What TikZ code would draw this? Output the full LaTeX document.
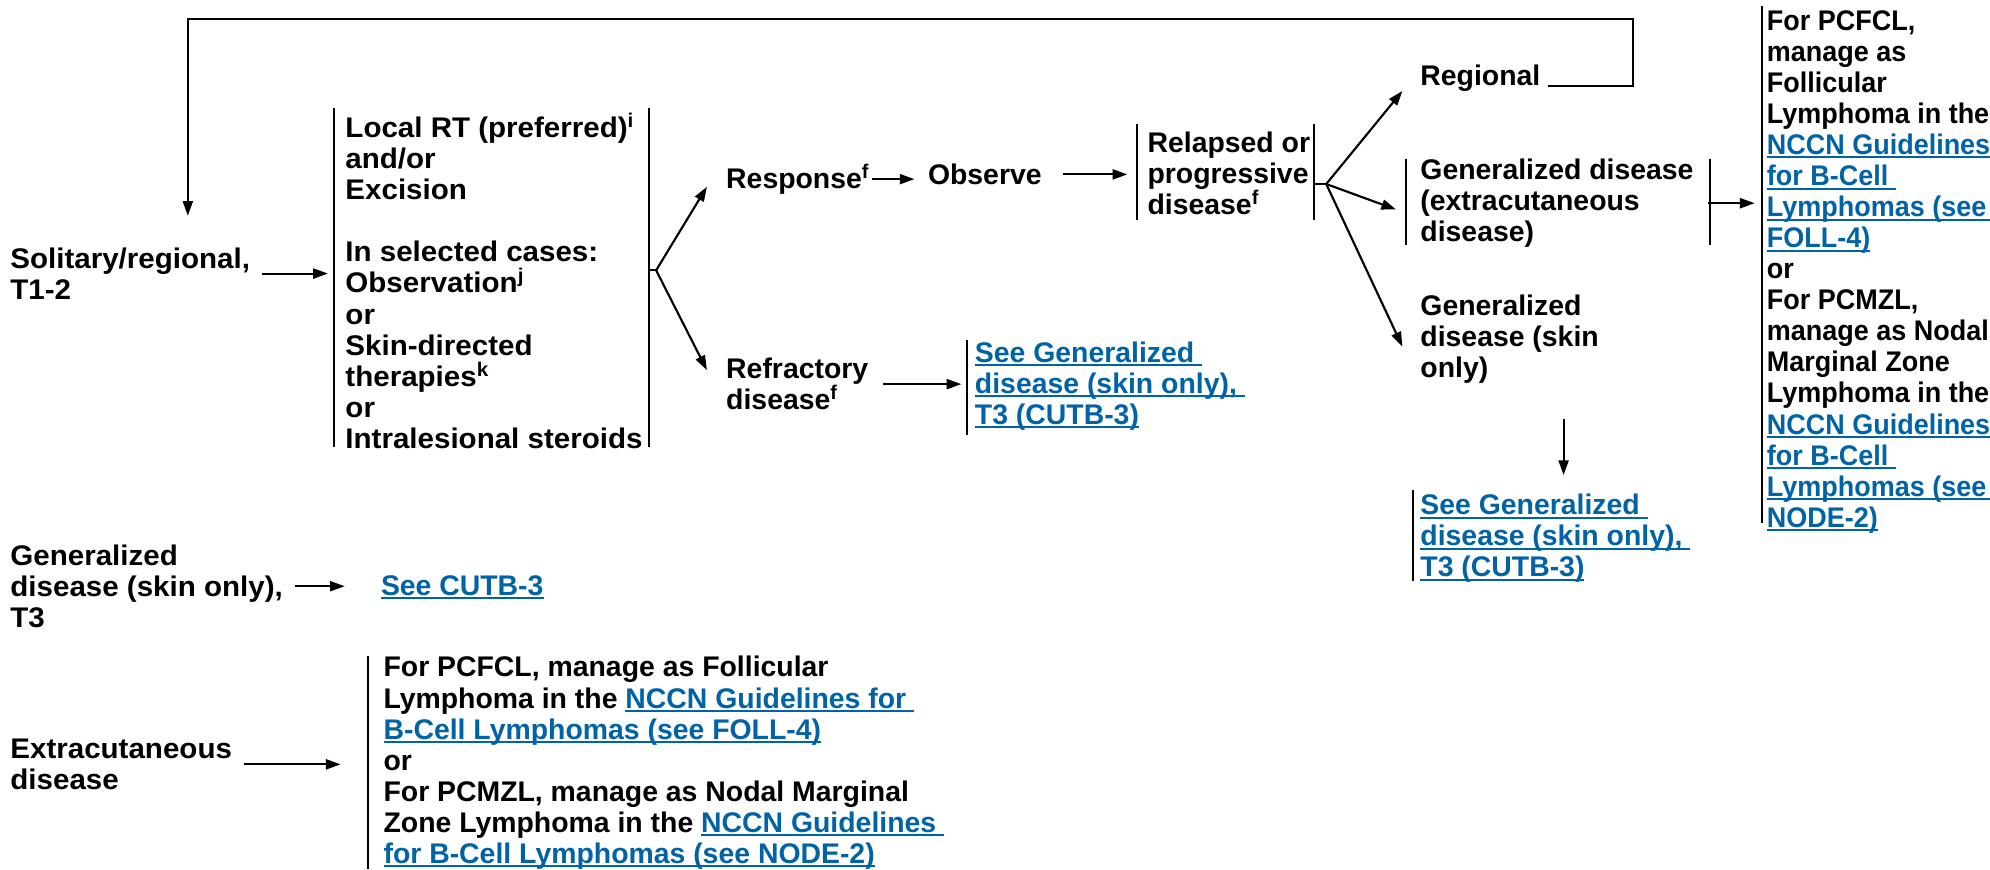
\documentclass[tikz,border=0pt]{standalone}
\usepackage{fontspec}
\setmainfont{Liberation Sans}
\usetikzlibrary{arrows.meta}
\definecolor{linkblue}{RGB}{0,99,166}
\newcommand{\lk}[1]{{\color{linkblue}\setbox0=\hbox{#1}\rlap{\rule[-0.14em]{\wd0}{0.07em}}\box0}}
\newcommand{\fs}{\fontsize{21.3pt}{23.3pt}\selectfont\bfseries}
\begin{document}
\begin{tikzpicture}[x=0.952pt,y=-0.952pt,
  txt/.style={anchor=north west, inner sep=0pt, align=left, font=\fs},
  wide/.style={font=\fs\addfontfeature{FakeStretch=1.04}},
  narrow/.style={font=\fs\addfontfeature{FakeStretch=0.95}},
  arr/.style={-{Triangle[length=11pt,width=7.5pt]}, line width=1.6pt},
  ln/.style={line width=1.6pt},
  bar/.style={line width=1.5pt}]
\useasboundingbox (0,0) rectangle (1568,685);
\fill[white] (0,0) rectangle (1568,685);

% text nodes
\node[txt,wide] (sol) at (8,195) {Solitary/regional,\\T1-2};
\node[txt,wide] (box1) at (272,89) {Local RT (preferred)\textsuperscript{i}\\and/or\\Excision\\[23.3pt]In selected cases:\\Observation\textsuperscript{j}\\or\\Skin-directed\\therapies\textsuperscript{k}\\or\\Intralesional steroids};
\node[txt] (resp) at (572,129) {Response\textsuperscript{f}};
\node[txt] (obs) at (731,129) {Observe};
\node[txt] (rel) at (904,104) {Relapsed or\\progressive\\disease\textsuperscript{f}};
\node[txt] (refr) at (572,282) {Refractory\\disease\textsuperscript{f}};
\node[txt] (see1) at (768,269) {\lk{See Generalized }\\\lk{disease (skin only), }\\\lk{T3 (CUTB-3)}};
\node[txt] (reg) at (1119,51) {Regional};
\node[txt] (gext) at (1119,125) {Generalized disease\\(extracutaneous\\disease)};
\node[txt] (gskin) at (1119,232) {Generalized\\disease (skin\\only)};
\node[txt] (see2) at (1119,389) {\lk{See Generalized }\\\lk{disease (skin only), }\\\lk{T3 (CUTB-3)}};
\node[txt,narrow] (rcol) at (1392,8) {For PCFCL,\\manage as\\Follicular\\Lymphoma in the\\\lk{NCCN Guidelines }\\\lk{for B-Cell }\\\lk{Lymphomas (see }\\\lk{FOLL-4)}\\or\\For PCMZL,\\manage as Nodal\\Marginal Zone\\Lymphoma in the\\\lk{NCCN Guidelines }\\\lk{for B-Cell }\\\lk{Lymphomas (see }\\\lk{NODE-2)}};
\node[txt,wide] (gen3) at (8,429) {Generalized\\disease (skin only),\\T3};
\node[txt] (cutb) at (300,453) {\lk{See CUTB-3}};
\node[txt,wide] (extra) at (8,582) {Extracutaneous\\disease};
\node[txt] (bcol) at (302,517) {For PCFCL, manage as Follicular\\Lymphoma in the \lk{NCCN Guidelines for }\\\lk{B-Cell Lymphomas (see FOLL-4)}\\or\\For PCMZL, manage as Nodal Marginal\\Zone Lymphoma in the \lk{NCCN Guidelines }\\\lk{for B-Cell Lymphomas (see NODE-2)}};

% bracket bars
\draw[bar] (263,85) -- (263,352);
\draw[bar] (511,85) -- (511,352);
\draw[bar] (896,98) -- (896,173);
\draw[bar] (1035,98) -- (1035,173);
\draw[bar] (762,268) -- (762,343);
\draw[bar] (1108,125) -- (1108,193);
\draw[bar] (1347,125) -- (1347,193);
\draw[bar] (1113,386) -- (1113,458);
\draw[bar] (1388,5) -- (1388,412);
\draw[bar] (290,517) -- (290,685);

% junction coordinates
\coordinate (br) at (517,213);
\coordinate (rv) at (1045,145);
\coordinate (loopR) at (1287,15);
\coordinate (solin) at (148,170);
\coordinate (sk) at (1232,330);

% connectors
\draw[arr] ([xshift=9pt]sol.east) -- ([xshift=-13pt]sol.east -| box1.west);
\draw[ln] (511,213) -- (br);
\draw[arr] (br) -- ([shift={(-15,6)}]resp.west);
\draw[arr] (br) -- ([shift={(-15,-11)}]refr.west);
\draw[arr] ([xshift=2pt]resp.east) -- ([xshift=-10pt]resp.east -| obs.west);
\draw[arr] ([xshift=16pt]obs.east) -- ([xshift=-15pt]obs.east -| rel.west);
\draw[arr] ([xshift=11pt]refr.east) -- ([xshift=-10pt]refr.east -| see1.west);
\draw[ln] (1035,145) -- (rv);
\draw[arr] (rv) -- ([shift={(-14,10)}]reg.west);
\draw[arr] (rv) -- ([shift={(-19,5)}]gext.west);
\draw[arr] (rv) -- ([shift={(-14,6)}]gskin.west);
\draw[arr] ([xshift=11pt]gext.east) -- ([xshift=-9pt]gext.east -| rcol.west);
\draw[arr] (sk) -- ([yshift=14pt]sk |- see2.north);
\draw[arr] ([shift={(6,6)}]reg.east) -| (loopR) -| (solin);
\draw[arr] ([xshift=9pt]gen3.east) -- ([xshift=-27pt]gen3.east -| cutb.west);
\draw[arr] ([xshift=9pt]extra.east) -- ([xshift=-32pt]extra.east -| bcol.west);
\end{tikzpicture}
\end{document}
